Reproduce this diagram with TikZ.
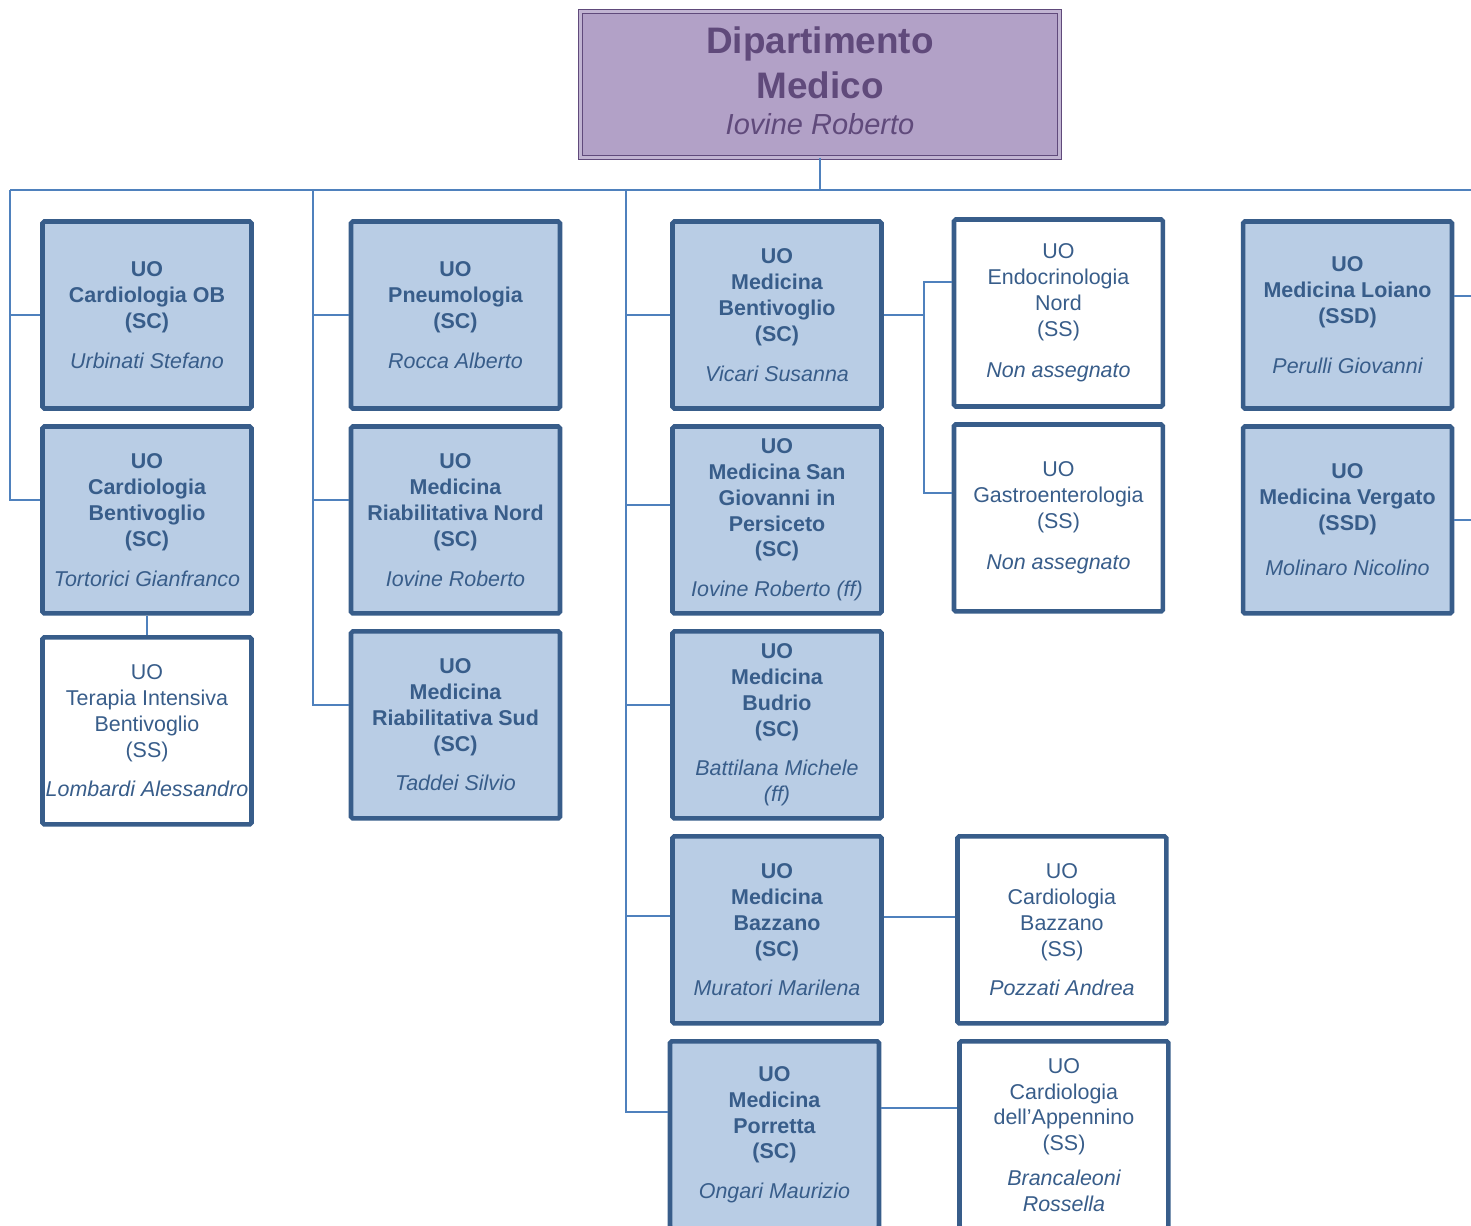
\documentclass[tikz,border=0pt]{standalone}
\usepackage{fontspec}
\setmainfont{Liberation Sans}
\usetikzlibrary{positioning}
\definecolor{deptfill}{HTML}{B2A1C7}
\definecolor{deptline}{HTML}{604A7B}
\definecolor{scfill}{HTML}{B9CDE5}
\definecolor{uoline}{HTML}{385D8A}
\definecolor{linkline}{HTML}{4F81BD}
\newcommand{\chief}[1]{{\mdseries\itshape #1}}
\tikzstyle{dept} = [
  rectangle,
  minimum width=9.58cm,
  minimum height=2.92cm,
  text centered,
  align=center,
  inner sep=0,
  draw=deptline,
  line width=0.7pt,
  double=deptfill!80!white,
  double distance=1.3pt,
  fill=deptfill,
  text=deptline,
  font=\fontsize{21}{25.5}\selectfont\bfseries
]
\tikzstyle{sc} = [
  rectangle,
  rounded corners=1pt,
  minimum width=4.18cm,
  minimum height=3.74cm,
  text centered,
  align=center,
  inner sep=0,
  draw=uoline,
  line width=2.6pt,
  fill=scfill,
  text=uoline,
  font=\fontsize{12.2}{14.7}\selectfont\bfseries
]
\tikzstyle{ss} = [
  sc,
  fill=white,
  font=\fontsize{12.2}{14.7}\selectfont
]
\tikzstyle{link} = [
  draw=linkline,
  line width=1.1pt
]
\begin{document}
\begin{tikzpicture}[x=0.02cm, y=-0.02cm, node distance=4.1cm]

    \useasboundingbox (0,0) rectangle (1471,1225);
    \clip (0,0) rectangle (1471,1225);

    \node (dept) [dept] at (820,84.5) {Dipartimento\\Medico\\[-5pt]{\fontsize{16.5}{20}\selectfont\mdseries\itshape Iovine Roberto\rule[-4.5pt]{0pt}{4.5pt}}};

    \node (cardOB) [sc] at (147,315) {UO\\Cardiologia OB\\(SC)\\[8pt]\chief{Urbinati Stefano}};
    \node (cardBent) [sc, below of=cardOB] {UO\\Cardiologia\\Bentivoglio\\(SC)\\[8pt]\chief{Tortorici Gianfranco}};
    \node (ti) [ss, below of=cardBent, yshift=-0.12cm] {UO\\Terapia Intensiva\\Bentivoglio\\(SS)\\[8pt]\chief{Lombardi Alessandro}};

    \node (pneumo) [sc] at (455.5,315) {UO\\Pneumologia\\(SC)\\[8pt]\chief{Rocca Alberto}};
    \node (riabNord) [sc, below of=pneumo] {UO\\Medicina\\Riabilitativa Nord\\(SC)\\[8pt]\chief{Iovine Roberto}};
    \node (riabSud) [sc, below of=riabNord] {UO\\Medicina\\Riabilitativa Sud\\(SC)\\[8pt]\chief{Taddei Silvio}};

    \node (medBent) [sc] at (777,315) {UO\\Medicina\\Bentivoglio\\(SC)\\[8pt]\chief{Vicari Susanna}};
    \node (sanGio) [sc, below of=medBent] {UO\\Medicina San\\Giovanni in\\Persiceto\\(SC)\\[8pt]\chief{Iovine Roberto (ff)}};
    \node (budrio) [sc, below of=sanGio] {UO\\Medicina\\Budrio\\(SC)\\[8pt]\chief{Battilana Michele}\\\chief{(ff)}};
    \node (bazzano) [sc, below of=budrio] {UO\\Medicina\\Bazzano\\(SC)\\[8pt]\chief{Muratori Marilena}};
    \node (porretta) [sc, below of=bazzano, xshift=-0.05cm] {UO\\Medicina\\Porretta\\(SC)\\[8pt]\chief{Ongari Maurizio}};

    \node (endo) [ss, right of=medBent, xshift=1.53cm, yshift=0.04cm] {UO\\Endocrinologia\\Nord\\(SS)\\[9pt]\chief{Non assegnato}};
    \node (gastro) [ss, below of=endo] {UO\\Gastroenterologia\\(SS)\\[9pt]\chief{Non assegnato}};
    \node (cardBazz) [ss, right of=bazzano, xshift=1.6cm] {UO\\Cardiologia\\Bazzano\\(SS)\\[8pt]\chief{Pozzati Andrea}};
    \node (cardApp) [ss, right of=porretta, xshift=1.69cm] {UO\\Cardiologia\\dell’Appennino\\(SS)\\[5pt]\chief{Brancaleoni}\\\chief{Rossella}};

    \node (loiano) [sc] at (1347.5,315) {UO\\Medicina Loiano\\(SSD)\\[14pt]\chief{Perulli Giovanni}};
    \node (vergato) [sc, below of=loiano] {UO\\Medicina Vergato\\(SSD)\\[11pt]\chief{Molinaro Nicolino}};

    \coordinate (busL) at (10,190);
    \coordinate (bus2) at (313,190);
    \coordinate (bus3) at (626,190);
    \coordinate (busR) at (1495,190);

    \draw [link] (dept.south) -- (dept.south |- busL);
    \draw [link] (busL) -- (busR);
    \draw [link] (busL) |- (cardOB.west);
    \draw [link] (busL) |- ([yshift=0.4cm]cardBent.west);
    \draw [link] (cardBent) -- (ti);
    \draw [link] (bus2) |- (pneumo.west);
    \draw [link] (bus2) |- ([yshift=0.4cm]riabNord.west);
    \draw [link] (bus2) |- ([yshift=0.4cm]riabSud.west);
    \draw [link] (bus3) |- (medBent.west);
    \draw [link] (bus3) |- ([yshift=0.3cm]sanGio.west);
    \draw [link] (bus3) |- ([yshift=0.4cm]budrio.west);
    \draw [link] (bus3) |- ([yshift=0.28cm]bazzano.west);
    \draw [link] (bus3) |- ([yshift=0.46cm]porretta.west);
    \draw [link] (medBent.east) -- ++(0.8cm,0) coordinate (fork);
    \draw [link] (fork) |- ([yshift=0.62cm]endo.west);
    \draw [link] (fork) |- ([yshift=0.5cm]gastro.west);
    \draw [link] ([yshift=0.25cm]bazzano.east) -- ([yshift=0.25cm]cardBazz.west);
    \draw [link] ([yshift=0.54cm]porretta.east) -- ([yshift=0.54cm]cardApp.west);
    \draw [link] (busR) |- ([yshift=0.38cm]loiano.east);
    \draw [link] (busR) |- (vergato.east);

  \end{tikzpicture}
\end{document}
